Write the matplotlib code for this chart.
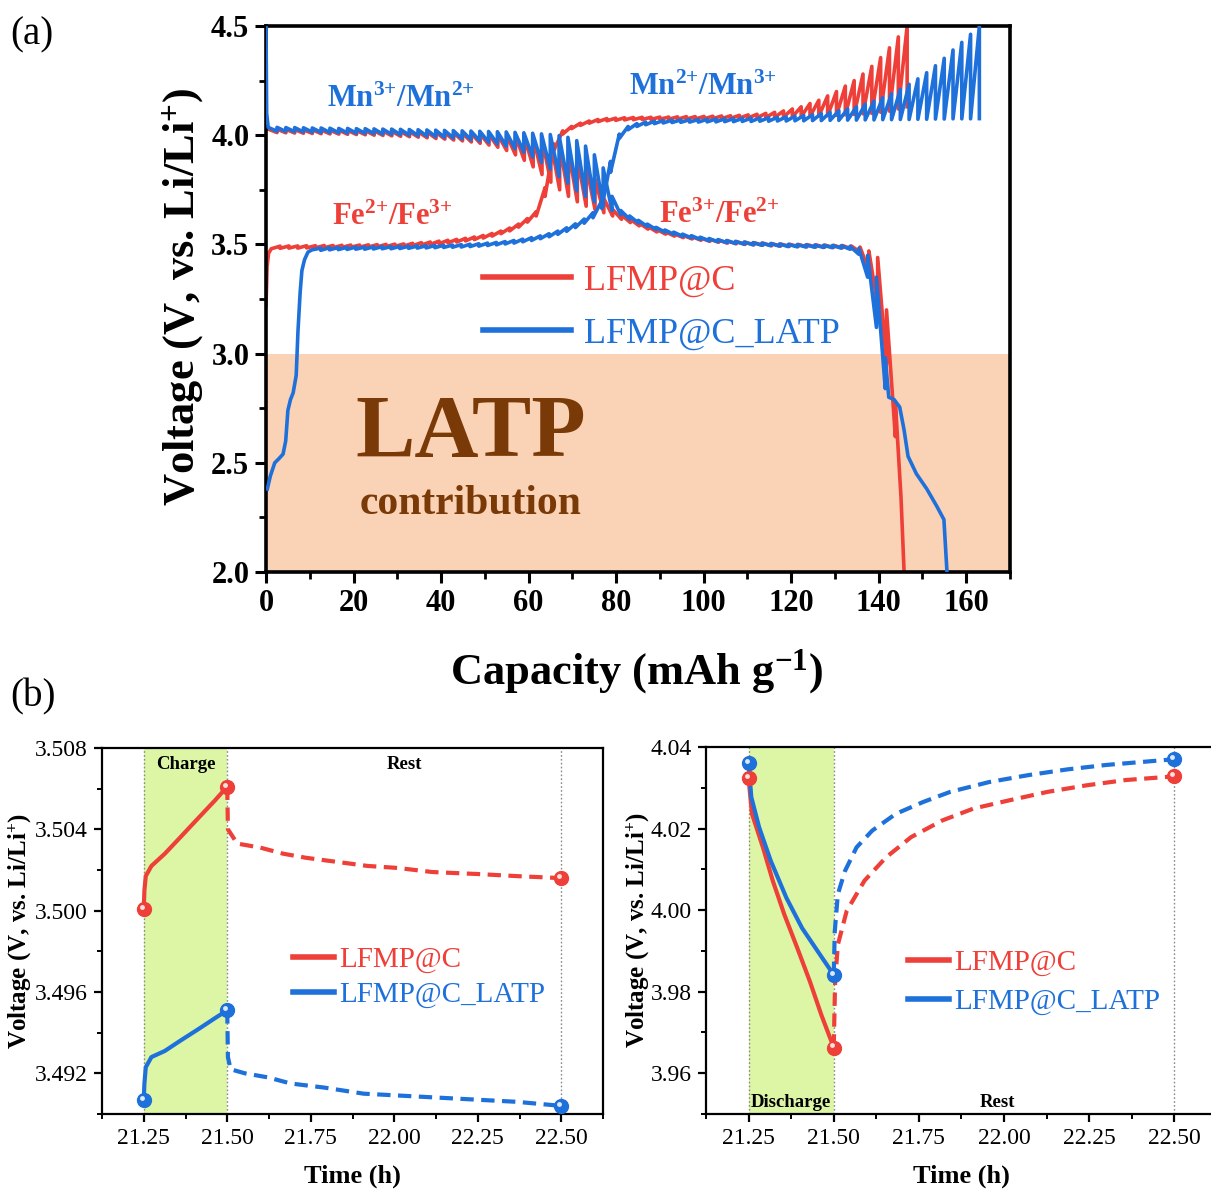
import numpy as np
import matplotlib
matplotlib.use("Agg")
import matplotlib.pyplot as plt
from matplotlib.ticker import MultipleLocator
from matplotlib.transforms import offset_copy

SERIF = "Liberation Serif"
plt.rcParams["font.family"] = [SERIF, "DejaVu Serif"]
plt.rcParams["mathtext.fontset"] = "custom"
plt.rcParams["mathtext.rm"] = SERIF
plt.rcParams["mathtext.it"] = SERIF + ":italic"
plt.rcParams["mathtext.bf"] = SERIF + ":bold"

RED = "#EE3F38"
BLUE = "#1E70DA"
ORANGE = "#FAD2B5"
GREEN = "#DCF6A6"
BROWN = "#7A3A08"

# ---------------- (a) GITT profiles: capacity (mAh/g) vs voltage (V) ----------------
# Each profile: lead-in points, then pulses (closed-circuit V at pulse end, relaxed V after rest),
# then optional tail points.
lfmp_chg_lead_cap = [0.0, 0.25, 0.6, 1.2]
lfmp_chg_lead_v = [3.22, 3.40, 3.46, 3.48]
lfmp_chg_span = (1.2, 146.5)
lfmp_chg_ccv = [3.492, 3.493, 3.493, 3.494, 3.494, 3.495, 3.495, 3.496, 3.497, 3.497,
                3.498, 3.499, 3.500, 3.501, 3.502, 3.505, 3.508, 3.511, 3.515, 3.519,
                3.523, 3.528, 3.534, 3.541, 3.550, 3.561, 3.575, 3.593, 3.618, 3.650,
                3.760, 3.960, 4.020, 4.040, 4.055, 4.065, 4.072, 4.076, 4.078, 4.080,
                4.081, 4.082, 4.082, 4.083, 4.083, 4.084, 4.085, 4.085, 4.086, 4.087,
                4.088, 4.089, 4.091, 4.093, 4.096, 4.100, 4.105, 4.111, 4.120, 4.130,
                4.145, 4.160, 4.180, 4.200, 4.225, 4.250, 4.280, 4.315, 4.355, 4.400,
                4.450, 4.500]
lfmp_chg_ocv = [3.482, 3.483, 3.483, 3.484, 3.484, 3.485, 3.485, 3.486, 3.487, 3.487,
                3.488, 3.489, 3.490, 3.491, 3.492, 3.494, 3.497, 3.500, 3.503, 3.507,
                3.511, 3.516, 3.522, 3.529, 3.538, 3.549, 3.562, 3.579, 3.602, 3.630,
                3.720, 3.930, 4.005, 4.030, 4.045, 4.055, 4.062, 4.066, 4.068, 4.070,
                4.071, 4.072, 4.072, 4.073, 4.073, 4.073, 4.074, 4.074, 4.075, 4.076,
                4.076, 4.077, 4.078, 4.079, 4.080, 4.081, 4.082, 4.083, 4.084, 4.085,
                4.086, 4.088, 4.089, 4.091, 4.093, 4.095, 4.098, 4.100, 4.105, 4.110,
                4.120, 4.130]

latp_chg_lead_cap = [0.3, 1.0, 2.0, 3.0, 3.9, 4.5, 5.0, 5.6, 6.2, 6.9, 7.3, 7.8, 8.2, 8.8, 9.6, 10.5]
latp_chg_lead_v = [2.38, 2.44, 2.50, 2.52, 2.54, 2.60, 2.74, 2.79, 2.82, 2.90, 3.10, 3.28, 3.38, 3.43, 3.465, 3.475]
latp_chg_span = (10.5, 163.0)
latp_chg_ccv = [3.483, 3.485, 3.486, 3.487, 3.488, 3.488, 3.489, 3.490, 3.490, 3.491,
                3.492, 3.493, 3.494, 3.495, 3.496, 3.497, 3.499, 3.501, 3.503, 3.506,
                3.509, 3.513, 3.518, 3.524, 3.531, 3.539, 3.549, 3.561, 3.576, 3.594,
                3.616, 3.645, 3.700, 3.880, 4.005, 4.040, 4.053, 4.060, 4.064, 4.067,
                4.069, 4.070, 4.071, 4.072, 4.073, 4.074, 4.075, 4.076, 4.077, 4.078,
                4.079, 4.080, 4.082, 4.084, 4.087, 4.090, 4.094, 4.099, 4.105, 4.112,
                4.120, 4.130, 4.142, 4.156, 4.172, 4.190, 4.210, 4.233, 4.258, 4.286,
                4.318, 4.352, 4.390, 4.425, 4.462, 4.500]
latp_chg_ocv = [3.473, 3.475, 3.476, 3.477, 3.478, 3.478, 3.479, 3.480, 3.480, 3.481,
                3.482, 3.483, 3.484, 3.485, 3.486, 3.487, 3.488, 3.490, 3.492, 3.495,
                3.498, 3.502, 3.506, 3.512, 3.518, 3.526, 3.535, 3.546, 3.560, 3.577,
                3.597, 3.622, 3.665, 3.830, 3.985, 4.025, 4.040, 4.048, 4.053, 4.056,
                4.058, 4.059, 4.060, 4.060, 4.061, 4.061, 4.062, 4.062, 4.063, 4.063,
                4.064, 4.064, 4.065, 4.065, 4.066, 4.066, 4.067, 4.067, 4.068, 4.068,
                4.069, 4.069, 4.070, 4.070, 4.071, 4.071, 4.072, 4.072, 4.073, 4.073,
                4.074, 4.074, 4.075, 4.075, 4.075, 4.076]

lfmp_dis_lead_cap = [0.0, 0.5]
lfmp_dis_lead_v = [4.030, 4.028]
lfmp_dis_span = (0.5, 143.8)
lfmp_dis_ccv = [4.012, 4.011, 4.010, 4.009, 4.008, 4.007, 4.006, 4.005, 4.004, 4.003,
                4.002, 4.000, 3.999, 3.997, 3.995, 3.993, 3.991, 3.988, 3.985, 3.982,
                3.978, 3.974, 3.969, 3.963, 3.955, 3.945, 3.930, 3.910, 3.885, 3.855,
                3.820, 3.785, 3.750, 3.720, 3.695, 3.675, 3.660, 3.645, 3.630, 3.615,
                3.600, 3.585, 3.570, 3.557, 3.547, 3.538, 3.531, 3.525, 3.519, 3.514,
                3.510, 3.506, 3.503, 3.500, 3.498, 3.496, 3.494, 3.492, 3.491, 3.490,
                3.489, 3.488, 3.487, 3.486, 3.484, 3.480, 3.465, 3.380, 3.220, 2.950,
                2.620]
lfmp_dis_ocv = [4.028, 4.027, 4.026, 4.025, 4.025, 4.024, 4.023, 4.023, 4.022, 4.021,
                4.021, 4.020, 4.019, 4.018, 4.017, 4.016, 4.015, 4.014, 4.013, 4.012,
                4.011, 4.009, 4.008, 4.006, 4.004, 4.002, 4.000, 3.997, 3.993, 3.988,
                3.982, 3.970, 3.955, 3.930, 3.900, 3.860, 3.800, 3.710, 3.660, 3.635,
                3.615, 3.598, 3.582, 3.568, 3.557, 3.548, 3.541, 3.535, 3.529, 3.524,
                3.520, 3.516, 3.513, 3.510, 3.508, 3.506, 3.504, 3.502, 3.501, 3.500,
                3.499, 3.498, 3.497, 3.496, 3.495, 3.493, 3.488, 3.470, 3.440, 3.200,
                2.780]
lfmp_dis_tail_cap = [145.1, 145.8]
lfmp_dis_tail_v = [2.34, 2.00]

latp_dis_lead_cap = [0.0, 0.15, 0.5]
latp_dis_lead_v = [4.50, 4.10, 4.036]
latp_dis_span = (0.5, 141.5)
latp_dis_ccv = [4.018, 4.017, 4.016, 4.015, 4.014, 4.013, 4.012, 4.011, 4.010, 4.009,
                4.008, 4.007, 4.005, 4.004, 4.002, 4.000, 3.998, 3.996, 3.993, 3.990,
                3.987, 3.983, 3.979, 3.974, 3.968, 3.960, 3.950, 3.938, 3.922, 3.900,
                3.875, 3.845, 3.810, 3.780, 3.745, 3.720, 3.695, 3.675, 3.655, 3.635,
                3.615, 3.598, 3.582, 3.568, 3.556, 3.546, 3.537, 3.530, 3.523, 3.517,
                3.512, 3.508, 3.504, 3.501, 3.498, 3.496, 3.494, 3.492, 3.490, 3.489,
                3.488, 3.487, 3.486, 3.485, 3.483, 3.478, 3.455, 3.350, 3.120, 2.840]
latp_dis_ocv = [4.036, 4.035, 4.035, 4.034, 4.033, 4.033, 4.032, 4.031, 4.031, 4.030,
                4.030, 4.029, 4.028, 4.028, 4.027, 4.026, 4.025, 4.024, 4.023, 4.022,
                4.021, 4.020, 4.019, 4.018, 4.017, 4.016, 4.015, 4.013, 4.011, 4.009,
                4.006, 4.003, 3.998, 3.990, 3.975, 3.950, 3.910, 3.850, 3.720, 3.655,
                3.630, 3.610, 3.593, 3.578, 3.566, 3.556, 3.547, 3.540, 3.533, 3.527,
                3.522, 3.518, 3.514, 3.511, 3.508, 3.506, 3.504, 3.502, 3.500, 3.499,
                3.498, 3.497, 3.496, 3.495, 3.494, 3.491, 3.482, 3.450, 3.350, 2.980]
latp_dis_tail_cap = [142.3, 143.5, 144.8, 145.8, 146.7, 148.6, 151.0, 153.3, 154.9, 155.3, 155.6]
latp_dis_tail_v = [2.80, 2.79, 2.755, 2.65, 2.53, 2.45, 2.38, 2.30, 2.24, 2.10, 2.00]

# ---------------- (b) single pulse + rest, time (h) vs voltage (V) ----------------
chg_t = [21.25, 21.252, 21.256, 21.273, 21.313, 21.359, 21.416, 21.462, 21.50]
chg_lfmp_v = [3.5001, 3.5010, 3.5017, 3.5022, 3.5028, 3.5036, 3.5046, 3.5054, 3.5061]
chg_latp_v = [3.4907, 3.4915, 3.4923, 3.4928, 3.4931, 3.4936, 3.4942, 3.4947, 3.4951]
chg_rest_lfmp_t = [21.50, 21.502, 21.53, 21.599, 21.668, 21.736, 21.828, 21.92, 22.011, 22.114, 22.252, 22.366, 22.50]
chg_rest_lfmp_v = [3.5061, 3.5040, 3.5033, 3.5031, 3.5028, 3.5026, 3.5024, 3.5022, 3.5021, 3.5019, 3.5018, 3.5017, 3.5016]
chg_rest_latp_t = [21.50, 21.502, 21.51, 21.553, 21.622, 21.69, 21.79, 21.908, 22.023, 22.137, 22.252, 22.366, 22.50]
chg_rest_latp_v = [3.4951, 3.4928, 3.4922, 3.4920, 3.4918, 3.4915, 3.4913, 3.4910, 3.4909, 3.4908, 3.4907, 3.4906, 3.4904]

dis_lfmp_t = [21.25, 21.260, 21.292, 21.321, 21.355, 21.393, 21.430, 21.464, 21.50]
dis_lfmp_v = [4.0323, 4.0236, 4.0154, 4.0072, 3.9989, 3.9907, 3.9825, 3.9742, 3.9663]
dis_latp_t = [21.25, 21.258, 21.281, 21.315, 21.361, 21.407, 21.453, 21.50]
dis_latp_v = [4.0361, 4.0277, 4.0203, 4.0121, 4.0030, 3.9956, 3.9899, 3.9841]
dis_rest_lfmp_t = [21.50, 21.504, 21.512, 21.538, 21.590, 21.653, 21.727, 21.819, 21.91, 22.014, 22.128, 22.242, 22.357, 22.50]
dis_rest_lfmp_v = [3.9663, 3.9825, 3.9915, 3.9998, 4.0072, 4.0129, 4.0179, 4.0220, 4.0249, 4.0269, 4.0290, 4.0306, 4.0319, 4.0328]
dis_rest_latp_t = [21.50, 21.503, 21.512, 21.533, 21.567, 21.613, 21.682, 21.762, 21.842, 21.956, 22.071, 22.185, 22.30, 22.414, 22.50]
dis_rest_latp_v = [3.9841, 3.9948, 4.0039, 4.0096, 4.0154, 4.0195, 4.0236, 4.0265, 4.0290, 4.0314, 4.0331, 4.0345, 4.0356, 4.0364, 4.0370]

LABELS = ["LFMP@C", "LFMP@C_LATP"]


def gitt_path(lead_cap, lead_v, span, ccv, ocv, tail_cap=(), tail_v=()):
    """Build a GITT staircase: sloped current pulse, then vertical relaxation."""
    caps = np.linspace(span[0], span[1], len(ccv) + 1)[1:]
    x, y = list(lead_cap), list(lead_v)
    for c, v_on, v_off in zip(caps, ccv, ocv):
        x += [c, c]
        y += [v_on, v_off]
    x += list(tail_cap)
    y += list(tail_v)
    return x, y


def ion(a, b, c, d):
    # redox couple label with bold superscript charges, e.g. Mn3+/Mn2+
    return rf"{a}$^{{\mathbf{{{b}{{+}}}}}}$/{c}$^{{\mathbf{{{d}{{+}}}}}}$"


W, H = 1211, 1191
fig = plt.figure(figsize=(W / 100, H / 100), dpi=100)


def box(l, t, r, b):
    return [l / W, 1 - b / H, (r - l) / W, (b - t) / H]


# ======================= panel (a) =======================
ax = fig.add_axes(box(266, 26, 1010, 572))
ax.set_xlim(0, 170)
ax.set_ylim(2.0, 4.5)
ax.axhspan(2.0, 3.0, color=ORANGE, lw=0, zorder=0)

lw_a = 2.6
x, y = gitt_path(lfmp_chg_lead_cap, lfmp_chg_lead_v, lfmp_chg_span, lfmp_chg_ccv, lfmp_chg_ocv)
h_red, = ax.plot(x, y, color=RED, lw=lw_a, solid_joinstyle="round", label=LABELS[0], zorder=2)
x, y = gitt_path(lfmp_dis_lead_cap, lfmp_dis_lead_v, lfmp_dis_span, lfmp_dis_ccv, lfmp_dis_ocv,
                 lfmp_dis_tail_cap, lfmp_dis_tail_v)
ax.plot(x, y, color=RED, lw=lw_a, solid_joinstyle="round", zorder=2)
x, y = gitt_path(latp_chg_lead_cap, latp_chg_lead_v, latp_chg_span, latp_chg_ccv, latp_chg_ocv)
h_blue, = ax.plot(x, y, color=BLUE, lw=lw_a, solid_joinstyle="round", label=LABELS[1], zorder=3)
x, y = gitt_path(latp_dis_lead_cap, latp_dis_lead_v, latp_dis_span, latp_dis_ccv, latp_dis_ocv,
                 latp_dis_tail_cap, latp_dis_tail_v)
ax.plot(x, y, color=BLUE, lw=lw_a, solid_joinstyle="round", zorder=3)

ax.set_xticks(np.arange(0, 161, 20))
ax.set_xticklabels([str(v) for v in range(0, 161, 20)])
ax.set_yticks([2.0, 2.5, 3.0, 3.5, 4.0, 4.5])
ax.set_yticklabels(["2.0", "2.5", "3.0", "3.5", "4.0", "4.5"])
ax.xaxis.set_minor_locator(MultipleLocator(10))
ax.yaxis.set_minor_locator(MultipleLocator(0.25))
ax.tick_params(which="major", direction="out", length=8, width=2.2, labelsize=22, pad=4)
ax.tick_params(which="minor", direction="out", length=5, width=2.0)
for lab in ax.get_xticklabels() + ax.get_yticklabels():
    lab.set_fontweight("bold")
for sp in ax.spines.values():
    sp.set_linewidth(2.6)

fig.text(183 / W, 1 - 297 / H, r"Voltage (V, vs. Li/Li$^{\mathbf{+}}$)", rotation=90,
         fontsize=32, fontweight="bold", ha="center", va="center")
fig.text(637 / W, 1 - 672 / H, r"Capacity (mAh g$^{\mathbf{-1}}$)",
         fontsize=32, fontweight="bold", ha="center", va="center")

ax.text(30.9, 4.165, ion("Mn", 3, "Mn", 2), color=BLUE, fontsize=22,
        fontweight="bold", ha="center", va="center")
ax.text(28.8, 3.625, ion("Fe", 2, "Fe", 3), color=RED, fontsize=22,
        fontweight="bold", ha="center", va="center")
ax.text(99.9, 4.22, ion("Mn", 2, "Mn", 3), color=BLUE, fontsize=22,
        fontweight="bold", ha="center", va="center")
ax.text(103.5, 3.635, ion("Fe", 3, "Fe", 2), color=RED, fontsize=22,
        fontweight="bold", ha="center", va="center")

ax.text(46.8, 2.63, "LATP", color=BROWN, fontsize=64, fontweight="bold", ha="center", va="center")
ax.text(46.8, 2.31, "contribution", color=BROWN, fontsize=30, fontweight="bold", ha="center", va="center")

leg = ax.legend(handles=[h_red, h_blue], loc="center left",
                bbox_to_anchor=(483 / W, 1 - 307.5 / H), bbox_transform=fig.transFigure,
                frameon=False, fontsize=26, handlelength=2.45, handletextpad=0.35,
                labelspacing=0.55, borderpad=0, borderaxespad=0)
for t, l in zip(leg.get_texts(), leg.get_lines()):
    t.set_color(l.get_color())
    l.set_linewidth(4)

fig.text(10 / W, 1 - 35 / H, "(a)", fontsize=28, ha="left", va="center")
fig.text(10 / W, 1 - 697 / H, "(b)", fontsize=28, ha="left", va="center")


# ======================= panel (b) =======================
def marker(axx, t, v, color):
    axx.plot([t], [v], "o", ms=10, color=color, mec=color, zorder=5)
    tr = offset_copy(axx.transData, fig=fig, x=-1.5, y=1.5, units="points")
    axx.plot([t], [v], "o", ms=3.5, color="#FFFFFF", mec="none", alpha=0.85, transform=tr, zorder=6)


def style_b(axx):
    axx.set_xlim(21.125, 22.625)
    axx.set_xticks([21.25, 21.50, 21.75, 22.00, 22.25, 22.50])
    axx.set_xticklabels(["21.25", "21.50", "21.75", "22.00", "22.25", "22.50"])
    axx.xaxis.set_minor_locator(MultipleLocator(0.125))
    axx.tick_params(which="major", direction="out", length=6, width=1.6, labelsize=17, pad=4)
    axx.tick_params(which="minor", direction="out", length=3.5, width=1.4)
    for sp in axx.spines.values():
        sp.set_linewidth(1.6)
    axx.axvspan(21.25, 21.50, color=GREEN, lw=0, zorder=0)
    for tv in (21.25, 21.50, 22.50):
        axx.axvline(tv, color="#8A8A8A", lw=1.0, ls=(0, (1.2, 1.6)), zorder=1)
    axx.set_xlabel("Time (h)", fontsize=19, fontweight="bold", labelpad=11)


lw_b = 3.0
dash = (0, (3.2, 1.8))

axL = fig.add_axes(box(102, 748, 603, 1114))
style_b(axL)
axL.set_ylim(3.490, 3.508)
axL.set_yticks([3.492, 3.496, 3.500, 3.504, 3.508])
axL.set_yticklabels(["3.492", "3.496", "3.500", "3.504", "3.508"])
axL.yaxis.set_minor_locator(MultipleLocator(0.002))
lr, = axL.plot(chg_t, chg_lfmp_v, color=RED, lw=lw_b, label=LABELS[0], zorder=3)
lb, = axL.plot(chg_t, chg_latp_v, color=BLUE, lw=lw_b, label=LABELS[1], zorder=3)
axL.plot(chg_rest_lfmp_t, chg_rest_lfmp_v, color=RED, lw=lw_b, ls=dash, zorder=3)
axL.plot(chg_rest_latp_t, chg_rest_latp_v, color=BLUE, lw=lw_b, ls=dash, zorder=3)
for t, v in [(chg_t[0], chg_lfmp_v[0]), (chg_t[-1], chg_lfmp_v[-1]), (chg_rest_lfmp_t[-1], chg_rest_lfmp_v[-1])]:
    marker(axL, t, v, RED)
for t, v in [(chg_t[0], chg_latp_v[0]), (chg_t[-1], chg_latp_v[-1]), (chg_rest_latp_t[-1], chg_rest_latp_v[-1])]:
    marker(axL, t, v, BLUE)
axL.text(21.375, 3.5072, "Charge", fontsize=13.5, fontweight="bold", ha="center", va="center")
axL.text(22.03, 3.5072, "Rest", fontsize=13.5, fontweight="bold", ha="center", va="center")
axL.set_ylabel(r"Voltage (V, vs. Li/Li$^{\mathbf{+}}$)", fontsize=18, fontweight="bold")
axL.yaxis.set_label_coords(-0.136, 0.5)
legL = axL.legend(handles=[lr, lb], loc="center left",
                  bbox_to_anchor=(293 / W, 1 - 977.5 / H), bbox_transform=fig.transFigure,
                  frameon=False, fontsize=21, handlelength=1.4, handletextpad=0.18,
                  labelspacing=0.3, borderpad=0, borderaxespad=0)
for t, l in zip(legL.get_texts(), legL.get_lines()):
    t.set_color(l.get_color())
    l.set_linewidth(4)

axR = fig.add_axes(box(706, 747, 1217, 1114))
style_b(axR)
axR.set_ylim(3.95, 4.04)
axR.set_yticks([3.96, 3.98, 4.00, 4.02, 4.04])
axR.set_yticklabels(["3.96", "3.98", "4.00", "4.02", "4.04"])
axR.yaxis.set_minor_locator(MultipleLocator(0.01))
rr, = axR.plot(dis_lfmp_t, dis_lfmp_v, color=RED, lw=lw_b, label=LABELS[0], zorder=3)
rb, = axR.plot(dis_latp_t, dis_latp_v, color=BLUE, lw=lw_b, label=LABELS[1], zorder=3)
axR.plot(dis_rest_lfmp_t, dis_rest_lfmp_v, color=RED, lw=lw_b, ls=dash, zorder=3)
axR.plot(dis_rest_latp_t, dis_rest_latp_v, color=BLUE, lw=lw_b, ls=dash, zorder=3)
for t, v in [(dis_lfmp_t[0], dis_lfmp_v[0]), (dis_lfmp_t[-1], dis_lfmp_v[-1]), (dis_rest_lfmp_t[-1], dis_rest_lfmp_v[-1])]:
    marker(axR, t, v, RED)
for t, v in [(dis_latp_t[0], dis_latp_v[0]), (dis_latp_t[-1], dis_latp_v[-1]), (dis_rest_latp_t[-1], dis_rest_latp_v[-1])]:
    marker(axR, t, v, BLUE)
axR.text(21.375, 3.9528, "Discharge", fontsize=13.5, fontweight="bold", ha="center", va="center")
axR.text(21.98, 3.9528, "Rest", fontsize=13.5, fontweight="bold", ha="center", va="center")
axR.set_ylabel(r"Voltage (V, vs. Li/Li$^{\mathbf{+}}$)", fontsize=18, fontweight="bold")
axR.yaxis.set_label_coords(-0.106, 0.5)
legR = axR.legend(handles=[rr, rb], loc="center left",
                  bbox_to_anchor=(908 / W, 1 - 982.5 / H), bbox_transform=fig.transFigure,
                  frameon=False, fontsize=21, handlelength=1.4, handletextpad=0.18,
                  labelspacing=0.42, borderpad=0, borderaxespad=0)
for t, l in zip(legR.get_texts(), legR.get_lines()):
    t.set_color(l.get_color())
    l.set_linewidth(4)

fig.savefig("out.png", dpi=100)
